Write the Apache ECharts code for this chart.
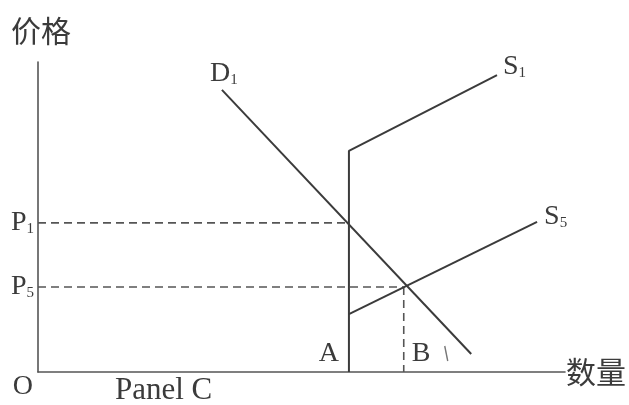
<!DOCTYPE html>
<html>
<head>
<meta charset="utf-8">
<script src="https://cdn.jsdelivr.net/npm/echarts@6/dist/echarts.min.js"></script>
<style>
  html, body { margin: 0; padding: 0; background: #fff; }
  #chart { width: 629px; height: 405px; }
</style>
</head>
<body>
<div id="chart"></div>
<script>
// quantities and prices (axis runs 0-100 both ways)
const qA = 59.0
const qB = 69.4
const p1 = 48.1
const p5 = 27.4

const demand1 = [[34.9, 91.0], [82.2, 5.8]]
const supply1 = [[59.0, 0], [59.0, 71.3], [87.1, 95.8]]
const supply5 = [[59.0, 18.7], [94.7, 48.4]]
const p1Guide = [[0, p1], [qA, p1]]
const p5Guide = [[0, p5], [qB, p5]]
const bGuide = [[qB, p5], [qB, 0]]

const priceTicks = [p5, p1]
const priceTickNames = ['5', '1']

const serif = '"Liberation Serif", "DejaVu Serif", serif'
const cjk = '"Noto Sans CJK SC", sans-serif'
const ink = '#3b3b3b'

const subRich = {
  p: { fontSize: 28, lineHeight: 28, verticalAlign: 'top', fontFamily: serif, color: ink },
  s: { fontSize: 15, lineHeight: 15, verticalAlign: 'bottom', fontFamily: serif, color: ink }
}

function solid(name, data) {
  return {
    name: name,
    type: 'line',
    data: data,
    symbol: 'none',
    silent: true,
    lineStyle: { color: ink, width: 2 },
    z: 3
  }
}

function dashed(name, data) {
  return {
    name: name,
    type: 'line',
    data: data,
    symbol: 'none',
    silent: true,
    lineStyle: { color: '#555', width: 1.6, type: [8, 5] },
    z: 2
  }
}

const chart = echarts.init(document.getElementById('chart'))

chart.setOption({
  animation: false,
  backgroundColor: '#fff',
  grid: { left: 38, top: 62, width: 527, height: 310 },
  xAxis: {
    type: 'value',
    min: 0,
    max: 100,
    name: '数量',
    nameLocation: 'end',
    nameGap: 1,
    nameTextStyle: { fontFamily: cjk, fontSize: 30, color: ink, padding: [18, 0, 0, 0] },
    axisLine: { show: true, lineStyle: { color: '#555', width: 1.6 } },
    axisTick: { show: false },
    axisLabel: { show: false },
    splitLine: { show: false }
  },
  yAxis: {
    type: 'value',
    min: 0,
    max: 100,
    name: '价格',
    nameLocation: 'end',
    nameGap: 16,
    nameTextStyle: { fontFamily: cjk, fontSize: 30, color: ink, align: 'center', padding: [0, 0, 0, 6] },
    axisLine: { show: true, lineStyle: { color: '#555', width: 1.6 } },
    axisTick: { show: false },
    splitLine: { show: false },
    axisLabel: {
      show: true,
      customValues: priceTicks,
      margin: 4,
      formatter: function (v) {
        const i = priceTicks.indexOf(v)
        return '{p|P}{s|' + priceTickNames[i] + '}'
      },
      rich: subRich
    }
  },
  series: [
    solid('D1', demand1),
    solid('S1', supply1),
    solid('S5', supply5),
    dashed('P1', p1Guide),
    dashed('P5', p5Guide),
    dashed('B', bGuide)
  ]
})

// text marks placed next to the data points they name
function at(pt) {
  return chart.convertToPixel({ gridIndex: 0 }, pt)
}

function label(pt, dx, dy, text, align, vAlign, extra) {
  const p = at(pt)
  return {
    type: 'text',
    x: p[0] + dx,
    y: p[1] + dy,
    silent: true,
    style: Object.assign({
      text: text,
      align: align,
      verticalAlign: vAlign,
      font: '28px ' + serif,
      fill: ink,
      rich: subRich
    }, extra || {})
  }
}

// the small stray stroke printed to the right of B
const bMark = at([qB, 0])

chart.setOption({
  graphic: [
    label(demand1[0], 2, -2, '{p|D}{s|1}', 'center', 'bottom'),
    label(supply1[2], 6, -8, '{p|S}{s|1}', 'left', 'middle'),
    label(supply5[1], 7, -5, '{p|S}{s|5}', 'left', 'middle'),
    label([qA, 0], -10, -4, 'A', 'right', 'bottom'),
    label([qB, 0], 8, -4, 'B', 'left', 'bottom'),
    label([0, 0], -5, 1, 'O', 'right', 'top'),
    label([0, 0], 77, 3, 'Panel C', 'left', 'top', { font: '31px ' + serif }),
    {
      type: 'line',
      silent: true,
      shape: { x1: bMark[0] + 41, y1: bMark[1] - 26, x2: bMark[0] + 44, y2: bMark[1] - 11 },
      style: { stroke: '#777', lineWidth: 1.4 }
    }
  ]
})
</script>
</body>
</html>
